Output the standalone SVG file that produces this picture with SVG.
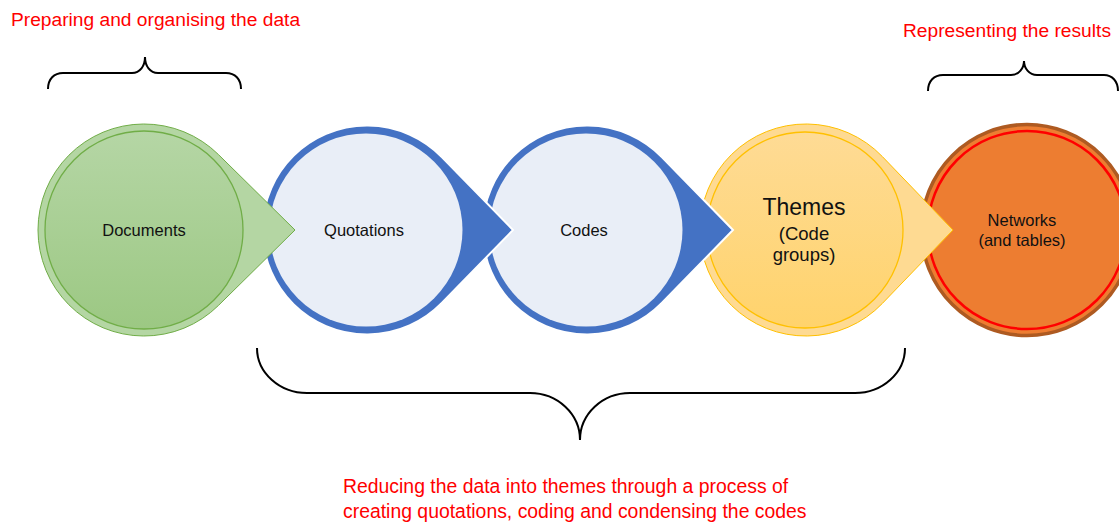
<svg xmlns="http://www.w3.org/2000/svg" width="1119" height="524" viewBox="0 0 1119 524">
  <style>
    .lbl { font-family: "Liberation Sans", Arial, sans-serif; fill: #111; text-anchor: middle; }
    .red { font-family: "Liberation Sans", Arial, sans-serif; fill: #FF0000; }
    .brace { fill: none; stroke: #000; stroke-width: 2; }
  </style>
  <defs>
    <linearGradient id="gGreen" x1="0" y1="0" x2="0" y2="1">
      <stop offset="0" stop-color="#B5D6A5"/>
      <stop offset="1" stop-color="#9CC883"/>
    </linearGradient>
    <linearGradient id="gYellow" x1="0" y1="0" x2="0" y2="1">
      <stop offset="0" stop-color="#FEDB95"/>
      <stop offset="1" stop-color="#FFD36C"/>
    </linearGradient>
  </defs>
  <rect width="1119" height="524" fill="#FFFFFF"/>

  <!-- drawn right to left so each tip overlaps the next node -->
  <g id="networks">
    <circle cx="1027" cy="230" r="105.5" fill="#ED7D31" stroke="#AE5A21" stroke-width="3.5"/>
    <circle cx="1027" cy="230" r="99" fill="none" stroke="#FF0000" stroke-width="2.5"/>
    <text class="lbl" x="1022" y="226" font-size="16.5">Networks</text>
    <text class="lbl" x="1022" y="246" font-size="16.5">(and tables)</text>
  </g>

  <g id="themes">
    <path d="M953,230 L882.4,156.6 A106,106 0 1,0 882.4,303.4 Z" fill="#FEDA92" stroke="#FFC000" stroke-width="1"/>
    <circle cx="805" cy="230" r="98" fill="url(#gYellow)" stroke="#FFC000" stroke-width="1.3"/>
    <text class="lbl" x="804" y="215" font-size="23">Themes</text>
    <text class="lbl" x="804" y="240" font-size="18.5">(Code</text>
    <text class="lbl" x="804" y="261" font-size="18.5">groups)</text>
  </g>

  <g id="codes">
    <path d="M733,230 L661.8,157 A104.5,104.5 0 1,0 661.8,303 Z" fill="#4472C4" stroke="#FFFFFF" stroke-width="2"/>
    <circle cx="586" cy="230" r="96.5" fill="#E9EEF7"/>
    <text class="lbl" x="584" y="236" font-size="16.5">Codes</text>
  </g>

  <g id="quotations">
    <path d="M513,230 L441.8,157 A104.5,104.5 0 1,0 441.8,303 Z" fill="#4472C4" stroke="#FFFFFF" stroke-width="2"/>
    <circle cx="366" cy="230" r="96.5" fill="#E9EEF7"/>
    <text class="lbl" x="364" y="236" font-size="16.5">Quotations</text>
  </g>

  <g id="documents">
    <path d="M295,230 L218.4,154.5 A106,106 0 1,0 218.4,305.5 Z" fill="#B4D6A3" stroke="#70AD47" stroke-width="1"/>
    <circle cx="144" cy="230" r="99" fill="url(#gGreen)" stroke="#70AD47" stroke-width="1.3"/>
    <text class="lbl" x="144" y="236" font-size="16.5">Documents</text>
  </g>

  <g id="connectors">
    <path class="brace" d="M48,89 C48,79 54,73 63,73 L132,73 C140,73 145,66 145,57 C145,66 150,73 158,73 L226,73 C235,73 241,79 241,89"/>
    <path class="brace" d="M928,91 C928,81 934,75 943,75 L1011,75 C1019,75 1024,68 1024,61 C1024,68 1029,75 1037,75 L1104,75 C1112,75 1118,81 1118,91"/>
    <path class="brace" d="M257,348 C257,372.75 279.4,393 307,393 L530,393 C557.5,393 580,414 580,440 C580,414 602.5,393 630,393 L855,393 C882.6,393 905,372.75 905,348"/>
  </g>

  <g id="labels">
    <text class="red" x="11" y="26" font-size="19.2">Preparing and organising the data</text>
    <text class="red" x="903" y="37" font-size="19.2">Representing the results</text>
    <text class="red" x="343" y="493" font-size="19.4">Reducing the data into themes through a process of</text>
    <text class="red" x="343" y="518" font-size="19.4">creating quotations, coding and condensing the codes</text>
  </g>
</svg>
